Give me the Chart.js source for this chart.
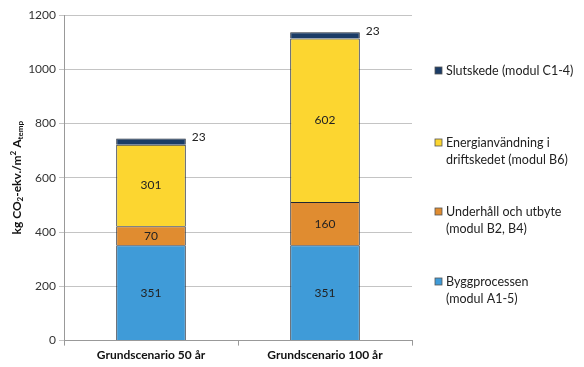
<!DOCTYPE html>
<html>
<head>
<meta charset="utf-8">
<script src="https://cdn.jsdelivr.net/npm/chart.js@4.4.1/dist/chart.umd.min.js"></script>
<style>
  html, body { margin: 0; padding: 0; background: #fff; }
  #wrap { position: relative; width: 584px; height: 367px; }
</style>
</head>
<body>
<div id="wrap"><canvas id="chart" width="584" height="367"></canvas></div>
<script>
// Chart data
const categories = ['Grundscenario 50 år', 'Grundscenario 100 år'];
const byggprocessen = [351, 351];
const underhall = [70, 160];
const energi = [301, 602];
const slutskede = [23, 23];
const yTicks = [0, 200, 400, 600, 800, 1000, 1200];

// Legend lines (multi-line labels, top to bottom)
const legendLabels = [
  ['Slutskede (modul C1-4)'],
  ['Energianvändning i', 'driftskedet (modul B6)'],
  ['Underhåll och utbyte', '(modul B2, B4)'],
  ['Byggprocessen', '(modul A1-5)']
];

const FONT = 'Lato, "Open Sans", sans-serif';
const colors = {
  bygg: '#3f9bd8',
  underhall: '#e08c30',
  energi: '#fcd630',
  slut: '#1b3c66'
};
const edge = '#1f2733';

// Draws value labels inside / beside the segments
const valueLabels = {
  id: 'valueLabels',
  afterDatasetsDraw(chart) {
    const ctx = chart.ctx;
    ctx.save();
    ctx.font = '12px ' + FONT;
    ctx.fillStyle = '#222';
    ctx.textBaseline = 'middle';
    chart.data.datasets.forEach((ds, i) => {
      const meta = chart.getDatasetMeta(i);
      meta.data.forEach((bar, j) => {
        const v = ds.data[j];
        if (i === 3) {
          ctx.textAlign = 'left';
          ctx.fillText(v, bar.x + bar.width / 2 + 6, bar.y - 1);
        } else {
          ctx.textAlign = 'center';
          ctx.fillText(v, bar.x, (bar.y + bar.base) / 2);
        }
      });
    });
    ctx.restore();
  }
};

// Y axis title with sub/superscripts and the right side legend
const extras = {
  id: 'extras',
  afterDraw(chart) {
    const ctx = chart.ctx;
    const area = chart.chartArea;
    ctx.save();

    // y title
    const parts = [
      { t: 'kg CO', s: 12, dy: 0 },
      { t: '2', s: 8, dy: 3 },
      { t: '-ekv./m', s: 12, dy: 0 },
      { t: '2', s: 8, dy: -4 },
      { t: ' A', s: 12, dy: 0 },
      { t: 'temp', s: 8, dy: 3 }
    ];
    let total = 0;
    parts.forEach(p => {
      ctx.font = 'bold ' + p.s + 'px ' + FONT;
      p.w = ctx.measureText(p.t).width;
      total += p.w;
    });
    ctx.translate(17, (area.top + area.bottom) / 2);
    ctx.rotate(-Math.PI / 2);
    ctx.fillStyle = '#111';
    ctx.textBaseline = 'middle';
    ctx.textAlign = 'left';
    let x = -total / 2;
    parts.forEach(p => {
      ctx.font = 'bold ' + p.s + 'px ' + FONT;
      ctx.fillText(p.t, x, p.dy);
      x += p.w;
    });
    ctx.restore();

    // legend
    ctx.save();
    const legendY = [71, 143, 212, 282];
    const legendColors = [colors.slut, colors.energi, colors.underhall, colors.bygg];
    ctx.font = '12.5px ' + FONT;
    ctx.textBaseline = 'middle';
    ctx.textAlign = 'left';
    legendLabels.forEach((lines, i) => {
      const y = legendY[i];
      ctx.fillStyle = legendColors[i];
      ctx.fillRect(435, y - 4, 7, 7);
      ctx.strokeStyle = '#555';
      ctx.lineWidth = 0.8;
      ctx.strokeRect(435, y - 4, 7, 7);
      ctx.fillStyle = '#222';
      lines.forEach((line, k) => {
        ctx.fillText(line, 446, y + k * 17);
      });
    });
    ctx.restore();
  }
};

const ctx = document.getElementById('chart').getContext('2d');
new Chart(ctx, {
  type: 'bar',
  data: {
    labels: categories,
    datasets: [
      { label: 'Byggprocessen (modul A1-5)', data: byggprocessen, backgroundColor: colors.bygg },
      { label: 'Underhåll och utbyte (modul B2, B4)', data: underhall, backgroundColor: colors.underhall },
      { label: 'Energianvändning i driftskedet (modul B6)', data: energi, backgroundColor: colors.energi },
      { label: 'Slutskede (modul C1-4)', data: slutskede, backgroundColor: colors.slut }
    ].map(d => Object.assign(d, {
      borderColor: edge,
      borderWidth: 1,
      categoryPercentage: 1,
      barPercentage: 0.4
    }))
  },
  options: {
    responsive: false,
    animation: false,
    layout: { padding: { top: 15, right: 172, bottom: 3, left: 0 } },
    plugins: {
      legend: { display: false },
      tooltip: { enabled: false }
    },
    scales: {
      x: {
        stacked: true,
        grid: { display: true, drawOnChartArea: false, offset: true, tickLength: 5, color: '#999' },
        border: { color: '#999' },
        ticks: { color: '#111', font: { family: FONT, size: 12, weight: 'bold' }, padding: 2 }
      },
      y: {
        stacked: true,
        min: 0,
        max: 1200,
        afterBuildTicks(scale) {
          scale.ticks = yTicks.map(v => ({ value: v }));
        },
        afterFit(scale) {
          scale.width = 64;
        },
        grid: { color: '#c4c4c4', tickLength: 5 },
        border: { color: '#999' },
        ticks: {
          color: '#333',
          font: { family: FONT, size: 12 },
          padding: 3,
          callback: v => String(v)
        }
      }
    }
  },
  plugins: [valueLabels, extras]
});
</script>
</body>
</html>
